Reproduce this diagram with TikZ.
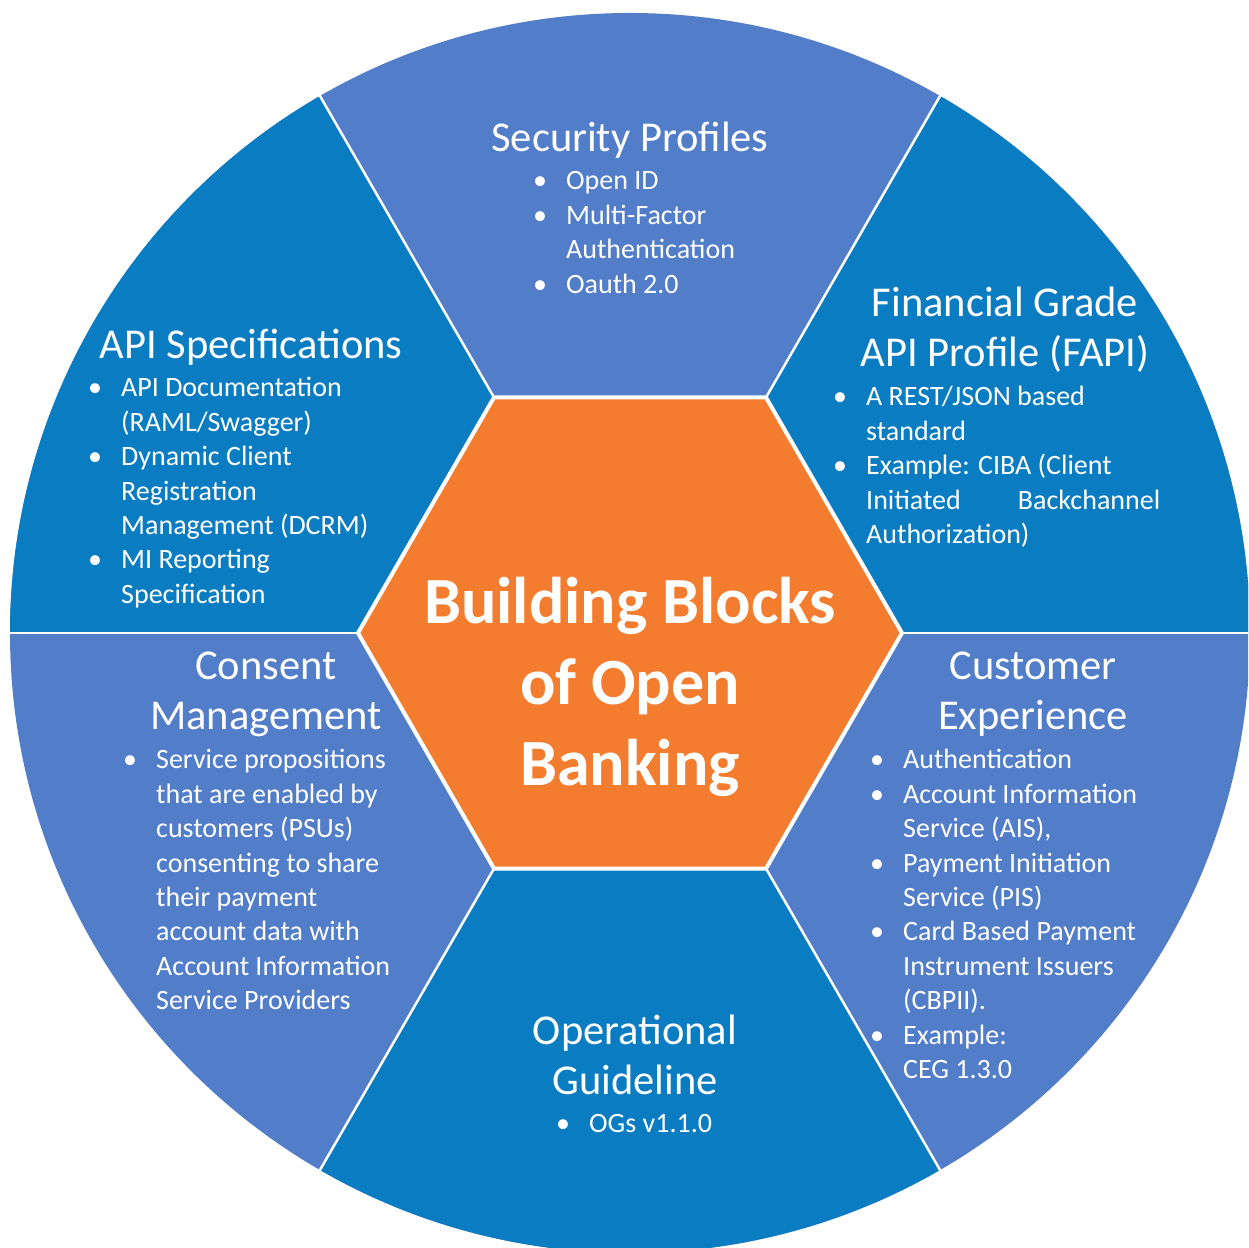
\documentclass[tikz,border=0pt]{standalone}
\usepackage{fontspec}
\setmainfont{Carlito}
\usetikzlibrary{calc}
\definecolor{lightblue}{HTML}{517DC9}
\definecolor{darkblue}{HTML}{0A7CC2}
\definecolor{hexorange}{HTML}{F37C2E}
\newcommand{\bul}{\makebox[33pt][l]{\textbullet}}
\newcommand{\ind}{\hspace*{33pt}}
\tikzset{
  sectitle/.style={text=white, font=\fontsize{42.5pt}{49.5pt}\selectfont, align=center, inner sep=0pt, anchor=base},
  items/.style={text=white, font=\fontsize{28pt}{34.4pt}\selectfont, align=left, inner sep=0pt, anchor=base west},
  bigtitle/.style={text=white, font=\bfseries\fontsize{66pt}{81pt}\selectfont, align=center, inner sep=0pt, anchor=base},
  sepline/.style={draw=white, line width=2.5pt},
  hexstyle/.style={fill=hexorange, draw=white, line width=4pt, line join=miter}
}
\begin{document}
\begin{tikzpicture}[x=1pt,y=1pt]
\useasboundingbox (0,0) rectangle (1248,1248);
\fill[white] (0,0) rectangle (1248,1248);
\clip (0,0) rectangle (1248,1248);
\coordinate (C) at (630,615);
\fill[lightblue] (C) circle[radius=620];
\foreach \a in {0,120,240}
  \fill[darkblue] (C) -- ++(\a:620) arc[start angle=\a, end angle=\a+60, radius=620] -- cycle;
\foreach \a in {0,60,...,300}
  \draw[sepline] ($(C)+(\a:270)$) -- ($(C)+(\a:625)$);
\path[hexstyle] ($(C)+(0:272)$) -- ($(C)+(60:272)$) -- ($(C)+(120:272)$) -- ($(C)+(180:272)$) -- ($(C)+(240:272)$) -- ($(C)+(300:272)$) -- cycle;

% centre (base anchor = baseline of last line)
\node[bigtitle] (centre) at (630,462) {Building Blocks\\of Open\\Banking};

% Security Profiles
\node[sectitle] (sectitle) at (630,1096) {Security Profiles};
\node[items] (secitems) at (533,954.8) {\bul Open ID\\\bul Multi-Factor\\\ind Authentication\\\bul Oauth 2.0};

% API Specifications
\node[sectitle] (apititle) at (251,889) {API Specifications};
\node[items] (apiitems) at (88,644.6) {\bul API Documentation\\\ind (RAML/Swagger)\\\bul Dynamic Client\\\ind Registration\\\ind Management (DCRM)\\\bul MI Reporting\\\ind Specification};

% FAPI
\node[sectitle] (fapititle) at (1005,881.5) {Financial Grade\\API Profile (FAPI)};
\node[items] (fapiitems) at (833,704.4) {\bul A REST/JSON based\\\ind standard\\\bul Example: CIBA (Client\\\ind \makebox[294pt][s]{Initiated\hfill Backchannel}\\\ind Authorization)};

% Consent Management
\node[sectitle] (constitle) at (266,518.5) {Consent\\Management};
\node[items] (consitems) at (123,238.2) {\bul Service propositions\\\ind that are enabled by\\\ind customers (PSUs)\\\ind consenting to share\\\ind their payment\\\ind account data with\\\ind Account Information\\\ind Service Providers};

% Customer Experience
\node[sectitle] (custtitle) at (1033,518.5) {Customer\\Experience};
\node[items] (custitems) at (870,169.4) {\bul Authentication\\\bul Account Information\\\ind Service (AIS),\\\bul Payment Initiation\\\ind Service (PIS)\\\bul Card Based Payment\\\ind Instrument Issuers\\\ind (CBPII).\\\bul Example:\\\ind CEG 1.3.0};

% Operational Guideline
\node[sectitle] (optitle) at (635,153.5) {Operational\\Guideline};
\node[items] (opitems) at (556,115) {\bul OGs v1.1.0};
\end{tikzpicture}
\end{document}
